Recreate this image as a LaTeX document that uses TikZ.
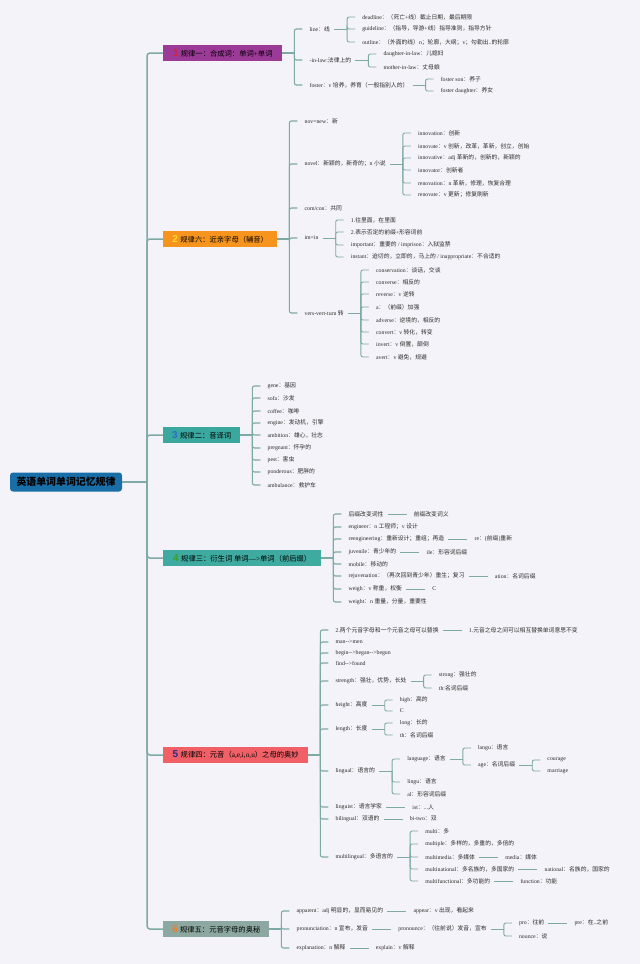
\documentclass[tikz,border=0pt]{standalone}
\usepackage{fontspec}
\setmainfont{Liberation Serif}
\newfontfamily\cjkf{Noto Sans CJK SC}
\newfontfamily\numf{Liberation Sans}
\XeTeXinterchartokenstate=1
\newXeTeXintercharclass\cjkcls
\makeatletter
\def\setcjkrange#1#2{\count@=#1\relax\loop\XeTeXcharclass\count@=\cjkcls\relax\ifnum\count@<#2\advance\count@ by 1\relax\repeat}
\setcjkrange{"3000}{"303F}
\setcjkrange{"4E00}{"9FFF}
\setcjkrange{"FF00}{"FFEF}
\makeatother
\XeTeXinterchartoks 0 \cjkcls = {\begingroup\cjkf}
\XeTeXinterchartoks 4095 \cjkcls = {\begingroup\cjkf}
\XeTeXinterchartoks \cjkcls 0 = {\endgroup}
\XeTeXinterchartoks \cjkcls 4095 = {\endgroup}
\definecolor{bg}{RGB}{243,243,249}
\definecolor{lc}{RGB}{125,170,165}
\definecolor{tc}{RGB}{45,45,45}
\definecolor{rootc}{RGB}{26,110,168}
\definecolor{c1}{RGB}{156,58,152}
\definecolor{c2}{RGB}{247,148,29}
\definecolor{c3}{RGB}{58,168,158}
\definecolor{c4}{RGB}{62,170,160}
\definecolor{c5}{RGB}{240,96,102}
\definecolor{c6}{RGB}{140,168,160}
\definecolor{n1}{RGB}{230,30,40}
\definecolor{n2}{RGB}{255,220,40}
\definecolor{n3}{RGB}{40,110,200}
\definecolor{n4}{RGB}{60,160,40}
\definecolor{n5}{RGB}{40,40,140}
\definecolor{n6}{RGB}{245,125,30}
\tikzset{
  ln/.style={draw=lc, line width=0.9pt, rounded corners=2pt},
  tr/.style={draw=lc, line width=1.5pt, rounded corners=3pt},
  tr2/.style={draw=lc, line width=1.1pt, rounded corners=2pt},
  t/.style={anchor=west, inner sep=0pt, font=\fontsize{5.8}{7}\selectfont, text=tc},
  bx/.style={anchor=west, minimum height=16pt, inner xsep=3pt, inner ysep=0pt, font=\fontsize{7.3}{8}\selectfont, text=black},
  rootbox/.style={fill=rootc, rounded corners=3pt, minimum width=112pt, minimum height=19pt, inner sep=0pt, font=\bfseries\fontsize{9.9}{11}\selectfont, text=black}
}
\newcommand\bnum[2]{{\numf\bfseries\fontsize{10}{10}\selectfont\color{#1}#2}\hspace{2.5pt}}
\newcommand\kid[4]{%
  \node[t,xshift=32pt] (#1) at (#2.east |- 0,#3) {#4};
  \draw[ln] ([xshift=17pt]#2.east) |- ([xshift=-7pt]#1.west);}
\newcommand\stm[1]{\draw[ln] ([xshift=4pt]#1.east) -- ([xshift=17pt]#1.east);}
\newcommand\bkid[4]{%
  \node[t,xshift=27pt] (#1) at (#2.east |- 0,#3) {#4};
  \draw[tr2] ([xshift=12pt]#2.east) |- ([xshift=-7pt]#1.west);}
\newcommand\bstm[1]{\draw[tr2] (#1.east) -- ([xshift=12pt]#1.east);}
\newcommand\lnk[3]{%
  \node[t,xshift=30pt] (#1) at (#2.east) {#3};
  \draw[ln] ([xshift=4pt]#2.east) -- ([xshift=-7pt]#1.west);}
\begin{document}
\begin{tikzpicture}[x=1pt,y=-1pt]
\fill[bg] (0,0) rectangle (640,964);
\useasboundingbox (0,0) rectangle (640,964);
% root and trunk
\node[rootbox] (root) at (66,482) {英语单词单词记忆规律};
\coordinate (tk) at (147,482);
\draw[tr] (root.east) -- (tk);
\node[bx,fill=c1,minimum width=119pt] (b1) at (163,53) {\bnum{n1}{1}规律一：合成词：单词+单词};
\node[bx,fill=c2,minimum width=114pt] (b2) at (163,239) {\bnum{n2}{2}规律六：近亲字母（辅音）};
\node[bx,fill=c3,minimum width=77pt] (b3) at (163,435) {\bnum{n3}{3}规律二：音译词};
\node[bx,fill=c4,minimum width=158pt] (b4) at (163,558) {\bnum{n4}{4}规律三：衍生词 单词—>单词（前后缀）};
\node[bx,fill=c5,minimum width=145pt] (b5) at (163,755) {\bnum{n5}{5}规律四：元音（a,e,i,o,u）之母的奥妙};
\node[bx,fill=c6,minimum width=106pt] (b6) at (163,929) {\bnum{n6}{6}规律五：元音字母的奥秘};
\foreach \b in {b1,b2,b3,b4,b5,b6} {\draw[tr] (tk) |- (\b.west);}
\foreach \b in {b1,b2,b3,b4,b5,b6} {\bstm{\b}}
% branch 1
\bkid{a1}{b1}{29}{line：线}\stm{a1}
\kid{a11}{a1}{17}{deadline：（死亡+线）截止日期，最后期限}
\kid{a12}{a1}{29}{guideline：（指导，导游+线）指导准则，指导方针}
\kid{a13}{a1}{42}{outline：（外面的线）n；轮廓，大纲；v；勾勒出..的轮廓}
\bkid{a2}{b1}{60}{-in-law:法律上的}\stm{a2}
\kid{a21}{a2}{54}{daughter-in-law：儿媳妇}
\kid{a22}{a2}{67}{mother-in-law：丈母娘}
\bkid{a3}{b1}{85}{foster：v 培养，养育（一般指别人的）}\stm{a3}
\kid{a31}{a3}{79}{foster son：养子}
\kid{a32}{a3}{91}{foster daughter：养女}
% branch 2
\bkid{c1}{b2}{121}{nov=new：新}
\bkid{c2}{b2}{164}{novel：新颖的，新奇的；n 小说}\stm{c2}
\kid{c21}{c2}{133}{innovation：创新}
\kid{c22}{c2}{146}{innovate：v 创新，改革，革新，创立，创始}
\kid{c23}{c2}{158}{innovative：adj 革新的，创新的，新颖的}
\kid{c24}{c2}{170}{innovator：创新者}
\kid{c25}{c2}{183}{renovation：n 革新，修理，恢复合理}
\kid{c26}{c2}{195}{renovate：v 更新；修复刷新}
\bkid{c3}{b2}{208}{com/con：共同}
\bkid{c4}{b2}{238}{im=in}\stm{c4}
\kid{c41}{c4}{220}{1.往里面，在里面}
\kid{c42}{c4}{232}{2.表示否定的前缀+形容词前}
\kid{c43}{c4}{245}{important：重要的 / imprison：入狱监禁}
\kid{c44}{c4}{257}{instant：迫切的，立即的，马上的 / inappropriate：不合适的}
\bkid{c5}{b2}{313}{vers-vert-turn 转}\stm{c5}
\kid{c51}{c5}{270}{conservation：谈话，交谈}
\kid{c52}{c5}{282}{converse：相反的}
\kid{c53}{c5}{294}{reverse：v 逆转}
\kid{c54}{c5}{307}{a：（前缀）加强}
\kid{c55}{c5}{320}{adverse：逆境的，相反的}
\kid{c56}{c5}{332}{convert：v 转化，转变}
\kid{c57}{c5}{344}{invert：v 倒置，颠倒}
\kid{c58}{c5}{357}{avert：v 避免，规避}
% branch 3
\bkid{d1}{b3}{386}{gene：基因}
\bkid{d2}{b3}{398}{sofa：沙发}
\bkid{d3}{b3}{411}{coffee：咖啡}
\bkid{d4}{b3}{423}{engine：发动机，引擎}
\bkid{d5}{b3}{435}{ambition：雄心，壮志}
\bkid{d6}{b3}{448}{pregnant：怀孕的}
\bkid{d7}{b3}{460}{pest：害虫}
\bkid{d8}{b3}{472}{ponderous：肥胖的}
\bkid{d9}{b3}{485}{ambulance：救护车}
% branch 4
\bkid{e1}{b4}{514}{后缀改变词性}\lnk{e1x}{e1}{前缀改变词义}
\bkid{e2}{b4}{527}{engineer：n 工程师；v 设计}
\bkid{e3}{b4}{539}{reengineering：重新设计；重组；再造}\lnk{e3x}{e3}{re：(前缀)重新}
\bkid{e4}{b4}{552}{juvenile：青少年的}\lnk{e4x}{e4}{ile：形容词后缀}
\bkid{e5}{b4}{564}{mobile：移动的}
\bkid{e6}{b4}{576}{rejuvenation：（再次回到青少年）重生；复习}\lnk{e6x}{e6}{ation：名词后缀}
\bkid{e7}{b4}{589}{weigh：v 称重，权衡}\lnk{e7x}{e7}{C}
\bkid{e8}{b4}{602}{weight：n 重量，分量，重要性}
% branch 5
\bkid{f1}{b5}{630}{2.两个元音字母和一个元音之母可以替换}\lnk{f1x}{f1}{1.元音之母之间可以相互替换单词意思不变}
\bkid{f2}{b5}{642}{man-{}->men}
\bkid{f3}{b5}{653}{begin-{}->began-{}->begun}
\bkid{f4}{b5}{663}{find-{}->found}
\bkid{f5}{b5}{681}{strength：强壮，优势，长处}\stm{f5}
\kid{f51}{f5}{675}{strong：强壮的}
\kid{f52}{f5}{688}{th:名词后缀}
\bkid{f6}{b5}{705}{height：高度}\stm{f6}
\kid{f61}{f6}{700}{high：高的}
\kid{f62}{f6}{711}{C}
\bkid{f7}{b5}{729}{length：长度}\stm{f7}
\kid{f71}{f7}{723}{long：长的}
\kid{f72}{f7}{735}{th：名词后缀}
\bkid{f8}{b5}{771}{lingual：语言的}\stm{f8}
\kid{f81}{f8}{759}{language：语言}\stm{f81}
\kid{f811}{f81}{748}{langu：语言}
\kid{f812}{f81}{765}{age：名词后缀}\stm{f812}
\kid{f8121}{f812}{760}{courage}
\kid{f8122}{f812}{771}{marriage}
\kid{f82}{f8}{782}{lingu：语言}
\kid{f83}{f8}{794}{al：形容词后缀}
\bkid{f9}{b5}{807}{linguist：语言学家}\lnk{f9x}{f9}{ist：...人}
\bkid{f10}{b5}{819}{bilingual：双语的}\lnk{f10x}{f10}{bi-two：双}
\bkid{f11}{b5}{857}{multilingual：多语言的}\stm{f11}
\kid{f111}{f11}{831}{multi：多}
\kid{f112}{f11}{844}{multiple：多样的，多重的，多倍的}
\kid{f113}{f11}{857}{multimedia：多媒体}\lnk{f113x}{f113}{media：媒体}
\kid{f114}{f11}{869}{multinational：多名族的，多国家的}\lnk{f114x}{f114}{national：名族的，国家的}
\kid{f115}{f11}{881}{multifunctional：多功能的}\lnk{f115x}{f115}{function：功能}
% branch 6
\bkid{g1}{b6}{911}{apparent：adj 明显的，显而易见的}\lnk{g1x}{g1}{appear：v 出现，看起来}
\bkid{g2}{b6}{929}{pronunciation：n 宣布，发音}\lnk{g2x}{g2}{pronounce：（往前说）发音，宣布}\stm{g2x}
\kid{g21}{g2x}{923}{pro：往前}\lnk{g21x}{g21}{pre：在..之前}
\kid{g22}{g2x}{936}{nounce：说}
\bkid{g3}{b6}{948}{explanation：n 解释}\lnk{g3x}{g3}{explain：v 解释}
\end{tikzpicture}
\end{document}
